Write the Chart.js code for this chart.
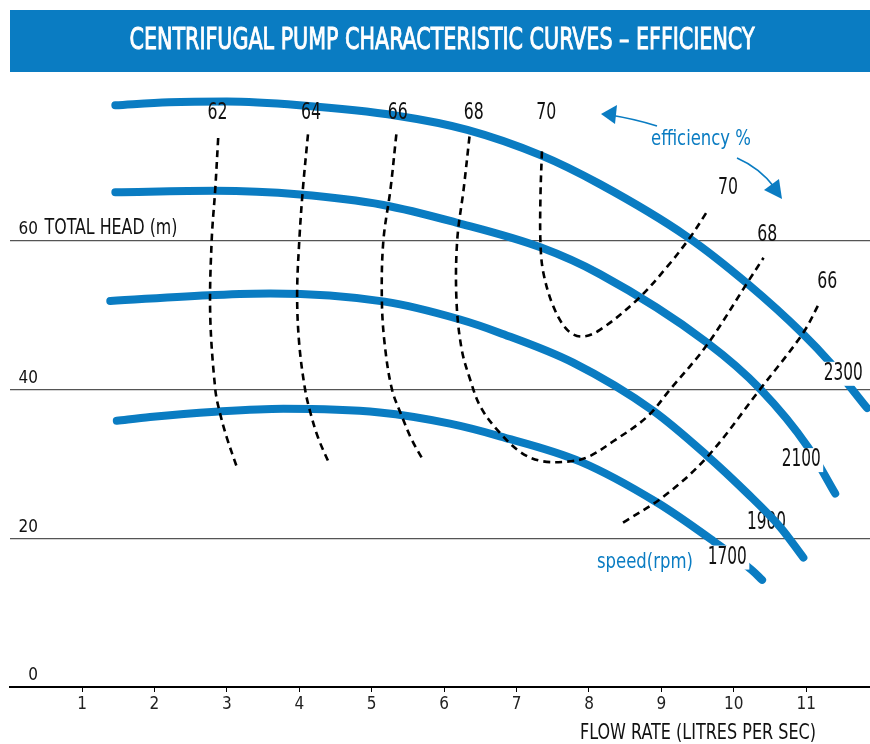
<!DOCTYPE html>
<html>
<head>
<meta charset="utf-8">
<script src="https://cdn.jsdelivr.net/npm/chart.js@4.4.1/dist/chart.umd.min.js"></script>
<style>
  body { margin: 0; background: #fff; }
  #wrap { position: relative; width: 870px; height: 744px; }
</style>
</head>
<body>
<div id="wrap"><canvas id="pumpChart" width="870" height="744"></canvas></div>
<script>
// DATA
const TITLE = "CENTRIFUGAL PUMP CHARACTERISTIC CURVES – EFFICIENCY";
const X_TICKS = [1, 2, 3, 4, 5, 6, 7, 8, 9, 10, 11];
const Y_TICKS = [0, 20, 40, 60];

// speed curves, flow (l/s) vs head (m)
const SPEED_LABELS = ["2300", "2100", "1900", "1700"];
const speed2300 = [[1.46,78.2],[2.2,78.6],[3.0,78.7],[4.0,78.2],[5.35,76.8],[6.32,74.9],[7.33,71.5],[8.15,67.6],[9.36,60.5],[10.19,54.2],[10.95,47.5],[11.33,43.6],[11.84,37.5]];
const speed2100 = [[1.46,66.5],[2.84,66.7],[4.01,66.2],[5.16,64.8],[6.18,62.4],[7.33,59.1],[8.15,55.5],[9.63,46.3],[10.37,40],[11.02,32.3],[11.4,26.0]];
const speed1900 = [[1.39,51.9],[2.84,52.7],[3.6,52.9],[5.18,51.8],[6.22,49.4],[6.77,47.6],[7.78,43.6],[8.89,37.1],[9.63,31.1],[10.18,26.1],[10.64,21.5],[10.96,17.4]];
const speed1700 = [[1.48,35.8],[1.94,36.3],[2.84,37.0],[3.78,37.4],[5.11,36.9],[6.08,35.4],[6.77,33.7],[7.88,30.3],[8.94,24.8],[9.72,19.6],[10.25,15.7],[10.39,14.4]];

// efficiency lines (%)
const EFF_LABELS = ["62", "64", "66", "68", "70", "70", "68", "66"];
const eff62 = [[2.88,73.8],[2.84,67],[2.79,60],[2.77,50],[2.84,40],[2.9,37],[3.0,33.5],[3.14,29.5]];
const eff64 = [[4.12,74.3],[4.05,67],[4.0,60],[3.97,52.7],[4.0,46],[4.08,40],[4.15,37],[4.26,33.5],[4.41,30.1]];
const eff66a = [[5.34,74.3],[5.26,67],[5.16,59.9],[5.14,52],[5.18,46],[5.28,40],[5.42,36.3],[5.55,33.3],[5.71,30.5]];
const eff68 = [[6.35,74],[6.27,67],[6.18,60],[6.17,52],[6.24,45.5],[6.36,41.3],[6.5,37.7],[6.73,34.6],[7.05,31.6],[7.33,30.4],[7.7,30.3],[7.98,30.9],[8.33,33.0],[8.8,36.3],[9.12,40],[9.63,46],[10.19,54.4],[10.41,57.7]];
const eff70 = [[7.35,72],[7.33,66],[7.33,59.7],[7.37,55.7],[7.51,51.1],[7.7,48.0],[7.9,47.1],[8.15,48],[8.67,52.1],[9.08,56.5],[9.4,60.5],[9.63,63.9]];
const eff66b = [[8.47,22.1],[9.03,25.6],[9.63,30.9],[10.36,40],[10.95,47.5],[11.19,51.8]];

// STYLE / LAYOUT
const FONT = '"Liberation Sans Narrow", "DejaVu Sans Condensed", "Open Sans", sans-serif';
const BLUE = "#0a7cc2";
// where the curve labels sit (in data units)
const effLabelAt = [[2.87,77.2],[4.16,77.2],[5.36,77.2],[6.41,77.2],[7.41,77.2],[9.92,67.1],[10.46,60.7],[11.29,54.4]];
const speedLabelAt = [[11.51,42.1],[10.93,30.5],[10.45,22.1],[9.91,17.4]];
const speedLabelBox = [true, true, false, true];

function fitText(ctx, txt, cx, cy, size, w, color, stroke) {
  ctx.save();
  ctx.font = size + "px " + FONT;
  const m = ctx.measureText(txt).width;
  ctx.translate(cx, cy);
  ctx.scale(w / m, 1);
  ctx.textAlign = "center";
  ctx.textBaseline = "middle";
  ctx.fillStyle = color;
  ctx.fillText(txt, 0, 0);
  if (stroke) {
    ctx.strokeStyle = color;
    ctx.lineWidth = stroke;
    ctx.strokeText(txt, 0, 0);
  }
  ctx.restore();
}

function arrowHead(ctx, tip, a, b) {
  ctx.beginPath();
  ctx.moveTo(tip[0], tip[1]);
  ctx.lineTo(a[0], a[1]);
  ctx.lineTo(b[0], b[1]);
  ctx.closePath();
  ctx.fill();
}

const decor = {
  id: "decor",
  beforeDraw(chart) {
    const { ctx } = chart;
    ctx.save();
    ctx.fillStyle = BLUE;
    ctx.fillRect(10, 10, 860, 62);
    fitText(ctx, TITLE, 442, 41, 30, 625, "#fff", 0.9);
    ctx.restore();
  },
  beforeDatasetsDraw(chart) {
    const { ctx, scales: { x, y } } = chart;
    // y labels
    Y_TICKS.forEach((v) => {
      const py = y.getPixelForValue(v) - 11;
      ctx.save();
      ctx.font = "17px " + FONT;
      ctx.fillStyle = "#111";
      ctx.textAlign = "right";
      ctx.textBaseline = "middle";
      ctx.fillText(String(v), 38, py);
      ctx.restore();
    });
    fitText(ctx, "TOTAL HEAD (m)", 111, y.getPixelForValue(60) - 12, 21, 133, "#111");
    // 1900 label sits under its curve
    SPEED_LABELS.forEach((t, i) => {
      if (speedLabelBox[i]) return;
      const p = speedLabelAt[i];
      fitText(ctx, t, x.getPixelForValue(p[0]), y.getPixelForValue(p[1]), 24, 39, "#111");
    });
  },
  afterDatasetsDraw(chart) {
    const { ctx, scales: { x, y } } = chart;
    EFF_LABELS.forEach((t, i) => {
      const p = effLabelAt[i];
      fitText(ctx, t, x.getPixelForValue(p[0]), y.getPixelForValue(p[1]), 23, 20, "#111");
    });
    SPEED_LABELS.forEach((t, i) => {
      if (!speedLabelBox[i]) return;
      const p = speedLabelAt[i];
      const cx = x.getPixelForValue(p[0]), cy = y.getPixelForValue(p[1]);
      ctx.fillStyle = "#fff";
      ctx.fillRect(cx - 22, cy - 12, 44, 24);
      fitText(ctx, t, cx, cy, 24, 39, "#111");
    });
    fitText(ctx, "efficiency %", 701, 140, 21, 100, BLUE);
    fitText(ctx, "speed(rpm)", 645, 563, 21, 96, BLUE);
    fitText(ctx, "FLOW RATE (LITRES PER SEC)", 698, 733, 22, 236, "#111");

    // arrows
    ctx.save();
    ctx.strokeStyle = BLUE;
    ctx.fillStyle = BLUE;
    ctx.lineWidth = 1.6;
    ctx.beginPath();
    ctx.moveTo(657, 126);
    ctx.quadraticCurveTo(635, 119, 610, 115);
    ctx.stroke();
    arrowHead(ctx, [601, 114], [617, 105], [615, 124]);
    ctx.beginPath();
    ctx.moveTo(737, 158);
    ctx.quadraticCurveTo(760, 168, 775, 188);
    ctx.stroke();
    arrowHead(ctx, [782, 199], [764, 190], [779, 179]);
    ctx.restore();
  },
};

function speedSet(pts) {
  return {
    data: pts.map((p) => ({ x: p[0], y: p[1] })),
    borderColor: BLUE,
    borderWidth: 8,
    borderCapStyle: "round",
    borderJoinStyle: "round",
    cubicInterpolationMode: "monotone",
    pointRadius: 0,
    fill: false,
    clip: false,
    order: 2,
  };
}
function effSet(pts) {
  return {
    data: pts.map((p) => ({ x: p[0], y: p[1] })),
    borderColor: "#000",
    borderWidth: 2.6,
    borderDash: [7, 5],
    tension: 0.35,
    pointRadius: 0,
    fill: false,
    clip: false,
    order: 1,
  };
}

new Chart(document.getElementById("pumpChart"), {
  type: "line",
  data: {
    datasets: [
      speedSet(speed2300), speedSet(speed2100), speedSet(speed1900), speedSet(speed1700),
      effSet(eff62), effSet(eff64), effSet(eff66a), effSet(eff68), effSet(eff70), effSet(eff66b),
    ],
  },
  options: {
    responsive: false,
    devicePixelRatio: 1,
    animation: false,
    layout: { padding: { top: 77, left: 0, right: 0, bottom: 0 } },
    plugins: { legend: { display: false }, tooltip: { enabled: false } },
    scales: {
      x: {
        type: "linear",
        min: 0,
        max: 11.88,
        afterBuildTicks: (s) => { s.ticks = X_TICKS.map((v) => ({ value: v })); },
        afterFit: (s) => { s.height = 57; },
        border: { display: true, color: "#000", width: 2 },
        grid: { drawOnChartArea: false, drawTicks: true, tickLength: 5, color: "#000" },
        ticks: { color: "#222", font: { family: FONT, size: 17 }, padding: 2, maxRotation: 0 },
      },
      y: {
        type: "linear",
        min: 0,
        max: 82,
        afterBuildTicks: (s) => { s.ticks = Y_TICKS.map((v) => ({ value: v })); },
        afterFit: (s) => { s.width = 9.6; },
        border: { display: false },
        grid: { color: "#555", lineWidth: 1.2, drawTicks: false },
        ticks: { display: false },
      },
    },
  },
  plugins: [decor],
});
</script>
</body>
</html>
